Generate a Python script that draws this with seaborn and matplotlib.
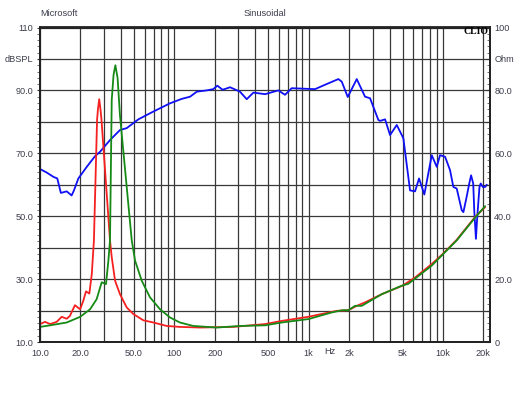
import numpy as np
import pandas as pd
import seaborn as sns
import matplotlib.pyplot as plt
from matplotlib.ticker import FixedLocator, MultipleLocator, LogLocator, FuncFormatter, NullFormatter

# SPL response (blue), dB
spl_freq = [10, 11.2, 12.6, 13.45, 14.3, 15.8, 17.2, 17.9, 19.3, 22.3, 25.7, 28.0, 33.2, 39.4,
            44.2, 54, 70, 93, 113.5, 131, 147, 174, 195, 209, 229, 260, 308, 346, 388, 474,
            595, 667, 748, 1116, 1325, 1664, 1764, 1955, 2281, 2630, 2866, 3304, 3402, 3707,
            4038, 4529, 5071, 5689, 6199, 6637, 7268, 8254, 8991, 9515, 10370, 11300, 11950,
            12660, 13800, 14200, 15000, 15700, 16200, 16800, 17100, 17600, 18000, 18700,
            19100, 19800, 20600, 21200]
spl_db = [65.0, 63.9, 62.5, 62.0, 57.4, 57.9, 56.6, 58.2, 62.0, 65.7, 69.1, 70.5, 74.2, 77.4,
          78.0, 80.8, 83.3, 85.9, 87.3, 88.0, 89.6, 90.0, 90.4, 91.5, 90.2, 91.0, 89.6, 87.2, 89.3, 88.8,
          90.0, 88.6, 90.7, 90.4, 91.8, 93.6, 92.8, 87.9, 93.6, 88.0, 87.5, 80.6, 80.3, 80.8,
          75.8, 79.0, 74.8, 58.2, 57.9, 62.0, 56.9, 69.4, 65.7, 69.4, 68.9, 64.6, 59.3,
          58.8, 51.9, 51.3, 56.1, 60.4, 63.0, 60.4, 51.9, 42.8, 49.7, 59.3,
          60.4, 59.3, 59.3, 60.0]

# impedance, first measurement (red), ohm
imp_red_freq = [10, 10.9, 11.9, 13.3, 14.5, 15.8, 16.7, 18.2, 19.9, 21.0, 22.0, 23.3, 24.3, 25.2,
                26.6, 27.0, 27.6, 28.2, 28.7, 33.2, 34.2, 36.2, 39.4, 44.2, 49.5, 58.8, 69.8,
                87.8, 110, 155, 274, 474, 630, 990, 1619, 1975, 2281, 2630, 3502, 4990, 6199,
                8254, 9965, 12660, 17300, 20600]
imp_red_ohm = [5.7, 6.4, 5.7, 6.4, 8.0, 7.4, 8.3, 11.7, 10.4, 13.1, 16.1, 15.4, 21.6, 32.3,
               70.6, 74.0, 77.2, 74.0, 70.6, 32.3, 27.0, 19.5, 15.2, 11.0, 8.9, 6.9, 6.2,
               5.1, 4.8, 4.6, 4.8, 5.7, 6.7, 8.0, 9.9, 10.1, 11.5, 12.6, 15.2, 17.9, 20.5,
               24.8, 28.0, 32.5, 39.7, 42.9]

# impedance, second measurement (green), ohm
imp_green_freq = [10, 11.9, 15.8, 19.9, 23.6, 26.4, 28.8, 31.0, 32.3, 33.2, 34.2, 35.3, 36.4,
                  37.8, 39.4, 48.2, 51.0, 57.2, 65.9, 78.3, 92.9, 110, 138.5, 207, 308, 474,
                  630, 1000, 1486, 1775, 1975, 2216, 2485, 3502, 4935, 5526, 8254, 12660,
                  17300, 20600]
imp_green_ohm = [4.8, 5.3, 6.2, 8.0, 10.4, 13.6, 19.0, 18.4, 25.9, 32.3, 77.0, 85.0, 88.0,
                 84.0, 72.0, 32.3, 25.9, 19.5, 14.2, 10.4, 7.8, 6.2, 5.1, 4.6, 5.1, 5.3,
                 6.2, 7.3, 9.4, 10.1, 10.1, 11.5, 11.5, 15.2, 17.9, 18.5, 24.3, 32.3,
                 39.5, 43.2]

x_ticks = [10, 20, 50, 100, 200, 500, 1000, 2000, 5000, 10000, 20000]
x_labels = ['10.0', '20.0', '50.0', '100', '200', '500', '1k', '2k', '5k', '10k', '20k']
left_labels = {10: '10.0', 30: '30.0', 50: '50.0', 70: '70.0', 90: '90.0', 100: 'dBSPL', 110: '110'}
right_labels = {0: '0', 20: '20.0', 40: '40.0', 60: '60.0', 80: '80.0', 90: 'Ohm', 100: '100'}

sns.set_style("white")
plt.rcParams['font.family'] = ['Liberation Sans', 'DejaVu Sans']
txt_color = '#3c3c4c'
fs = 6.6

fig = plt.figure(figsize=(5.3, 3.98), dpi=100)
ax = fig.add_axes([40 / 530, 1 - 342 / 398, 450 / 530, (342 - 27.5) / 398])
ax2 = ax.twinx()

spl = pd.DataFrame({'freq': spl_freq, 'db': spl_db})
red = pd.DataFrame({'freq': imp_red_freq, 'ohm': imp_red_ohm})
green = pd.DataFrame({'freq': imp_green_freq, 'ohm': imp_green_ohm})

sns.lineplot(data=spl, x='freq', y='db', ax=ax, color='#1010f5', linewidth=1.3, estimator=None, sort=False)
sns.lineplot(data=red, x='freq', y='ohm', ax=ax2, color='#f52020', linewidth=1.3, estimator=None, sort=False)
sns.lineplot(data=green, x='freq', y='ohm', ax=ax2, color='#168a16', linewidth=1.3, estimator=None, sort=False)

for a in (ax, ax2):
    a.set_xscale('log')
    a.set_xlim(10, 22400)
    a.set_xlabel('')
    a.set_ylabel('')
ax.set_ylim(10, 110)
ax2.set_ylim(0, 100)

ax.xaxis.set_major_locator(FixedLocator(x_ticks))
ax.xaxis.set_major_formatter(FuncFormatter(lambda v, p: x_labels[x_ticks.index(v)] if v in x_ticks else ''))
ax.xaxis.set_minor_locator(LogLocator(base=10, subs=range(2, 10), numticks=20))
ax.xaxis.set_minor_formatter(NullFormatter())

ax.yaxis.set_major_locator(MultipleLocator(10))
ax.yaxis.set_minor_locator(MultipleLocator(2))
ax.yaxis.set_major_formatter(FuncFormatter(lambda v, p: left_labels.get(int(round(v)), '')))
ax2.yaxis.set_major_locator(MultipleLocator(10))
ax2.yaxis.set_minor_locator(MultipleLocator(2))
ax2.yaxis.set_major_formatter(FuncFormatter(lambda v, p: right_labels.get(int(round(v)), '')))

grid_kw = dict(color='#383838', linewidth=0.9)
ax.grid(True, which='both', axis='x', **grid_kw)
ax.grid(True, which='major', axis='y', **grid_kw)
ax.set_axisbelow(True)
ax2.grid(False)

ax.tick_params(axis='x', which='both', length=0, pad=5, labelsize=fs, labelcolor=txt_color)
ax.tick_params(axis='y', which='major', length=2, direction='out', color='#333333', pad=3,
               labelsize=fs, labelcolor=txt_color, left=True)
ax.tick_params(axis='y', which='minor', length=2, direction='out', color='#555555', left=True)
ax2.tick_params(axis='y', which='major', length=3, direction='in', color='#333333', pad=3,
                labelsize=fs, labelcolor=txt_color, right=True)
ax2.tick_params(axis='y', which='minor', length=2, direction='in', color='#555555', right=True)
ax2.tick_params(axis='x', which='both', length=0)

for a in (ax, ax2):
    for s in a.spines.values():
        s.set_color('#222222')
        s.set_linewidth(1.3)

fig.text(40 / 530, 1 - 14 / 398, 'Microsoft', fontsize=fs, color=txt_color, va='center', ha='left')
fig.text(265 / 530, 1 - 14 / 398, 'Sinusoidal', fontsize=fs, color=txt_color, va='center', ha='center')
fig.text(488 / 530, 1 - 32 / 398, 'CLIO', fontsize=7, fontweight='bold', color='black',
         va='center', ha='right', family=['Liberation Serif', 'DejaVu Serif'])
fig.text(330 / 530, 1 - 352 / 398, 'Hz', fontsize=fs, color=txt_color, va='center', ha='center')

fig.savefig('out.png', dpi=100)
